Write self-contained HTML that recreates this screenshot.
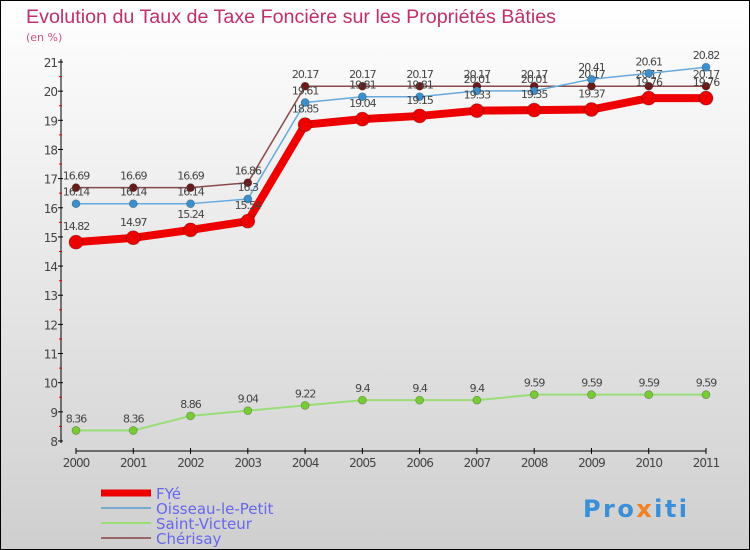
<!DOCTYPE html>
<html><head><meta charset="utf-8">
<style>
body{margin:0;}
#c{position:relative;width:748px;height:548px;border:1px solid #000;background:linear-gradient(#ffffff,#cfcfcf);font-family:"DejaVu Sans","Liberation Sans",sans-serif;overflow:hidden;}
svg text{font-family:"DejaVu Sans","Liberation Sans",sans-serif;}
</style></head><body>
<div id="c">
<svg id="s" width="748" height="548">
<text x="25" y="22" font-size="19" fill="#c0306a" textLength="530" lengthAdjust="spacingAndGlyphs" style="font-family:'Liberation Sans',sans-serif">Evolution du Taux de Taxe Foncière sur les Propriétés Bâties</text>
<text x="25" y="40" font-size="11" fill="#d05080">(en %)</text>
<g id="g"></g>
<text x="582" y="516" font-size="24" font-weight="bold" fill="#3a8fd8" textLength="104">Pro<tspan fill="#f08020">x</tspan>iti</text>
</svg>
</div>
<script>
const years=[2000,2001,2002,2003,2004,2005,2006,2007,2008,2009,2010,2011];
const yTicks=[8,9,10,11,12,13,14,15,16,17,18,19,20,21];
const fye=[14.82,14.97,15.24,15.54,18.85,19.04,19.15,19.33,19.35,19.37,19.76,19.76];
const oisseau=[16.14,16.14,16.14,16.3,19.61,19.81,19.81,20.01,20.01,20.41,20.61,20.82];
const victeur=[8.36,8.36,8.86,9.04,9.22,9.4,9.4,9.4,9.59,9.59,9.59,9.59];
const cherisay=[16.69,16.69,16.69,16.86,20.17,20.17,20.17,20.17,20.17,20.17,20.17,20.17];
const names=["FYé","Oisseau-le-Petit","Saint-Victeur","Chérisay"];
const NS="http://www.w3.org/2000/svg";
const g=document.getElementById('g');
const X=i=>75+i*(630/11);
const Y=v=>440-(v-8)*(379/13);
function el(t,a,p){const e=document.createElementNS(NS,t);for(const k in a)e.setAttribute(k,a[k]);(p||g).appendChild(e);return e;}
let ax=el('line',{x1:60,y1:58,x2:60,y2:442,stroke:'#000','stroke-width':1});


let bx=el('line',{x1:75,y1:450,x2:705,y2:450,stroke:'#000','stroke-width':1});


yTicks.forEach(v=>{
 el('line',{x1:57,y1:Y(v),x2:62,y2:Y(v),stroke:'#000'});
 if(v<21)el('line',{x1:58,y1:Y(v+0.5),x2:61,y2:Y(v+0.5),stroke:'#e00'});
 const t=el('text',{x:56,y:Y(v)+5,'font-size':12,fill:'#444','text-anchor':'end','letter-spacing':'-1'});
 t.textContent=v;
 
 
});
years.forEach((y,i)=>{
 el('line',{x1:X(i),y1:447,x2:X(i),y2:453,stroke:'#000'});
 const t=el('text',{x:X(i),y:466,'font-size':12,fill:'#444','text-anchor':'middle','letter-spacing':'-1'});
 t.textContent=y;
 
 
});
function series(data,color,w,r,dot,name,labelDy){
 const pts=data.map((v,i)=>X(i)+','+Y(v)).join(' ');
 const pl=el('polyline',{points:pts,fill:'none',stroke:color,'stroke-width':w,'stroke-linejoin':'round'});
 
 
 data.forEach((v,i)=>{
  const c=el('circle',{cx:X(i),cy:Y(v),r:r,fill:dot,stroke:'rgba(0,0,0,0.3)','stroke-width':0.7});
  
  
  const t=el('text',{x:X(i),y:Y(v)+labelDy,'font-size':11,fill:'#444','text-anchor':'middle','letter-spacing':'-1'});
  t.textContent=v;
  
  
 });
}
series(victeur,'#99dd77',2,4,'#77cc33','saint-victeur',-8);
series(cherisay,'#8b4a4a',1.5,4,'#6b1a1a','cherisay',-8);
series(oisseau,'#66aadd',1.5,4,'#3a8fcc','oisseau',-8);
series(fye,'#ee0000',8,7,'#ee0000','fye',-12);
const lc=[['#ee0000',7],['#77aacc',2],['#99dd77',2],['#996666',2]];
names.forEach((n,i)=>{
 const y=492+i*15;
 const l=el('line',{x1:100,y1:y,x2:150,y2:y,stroke:lc[i][0],'stroke-width':lc[i][1]});
 
 
 const t=el('text',{x:155,y:y+6,'font-size':15,fill:'#6666ee'});
 t.textContent=n;
 
 
});
</script>
</body></html>
